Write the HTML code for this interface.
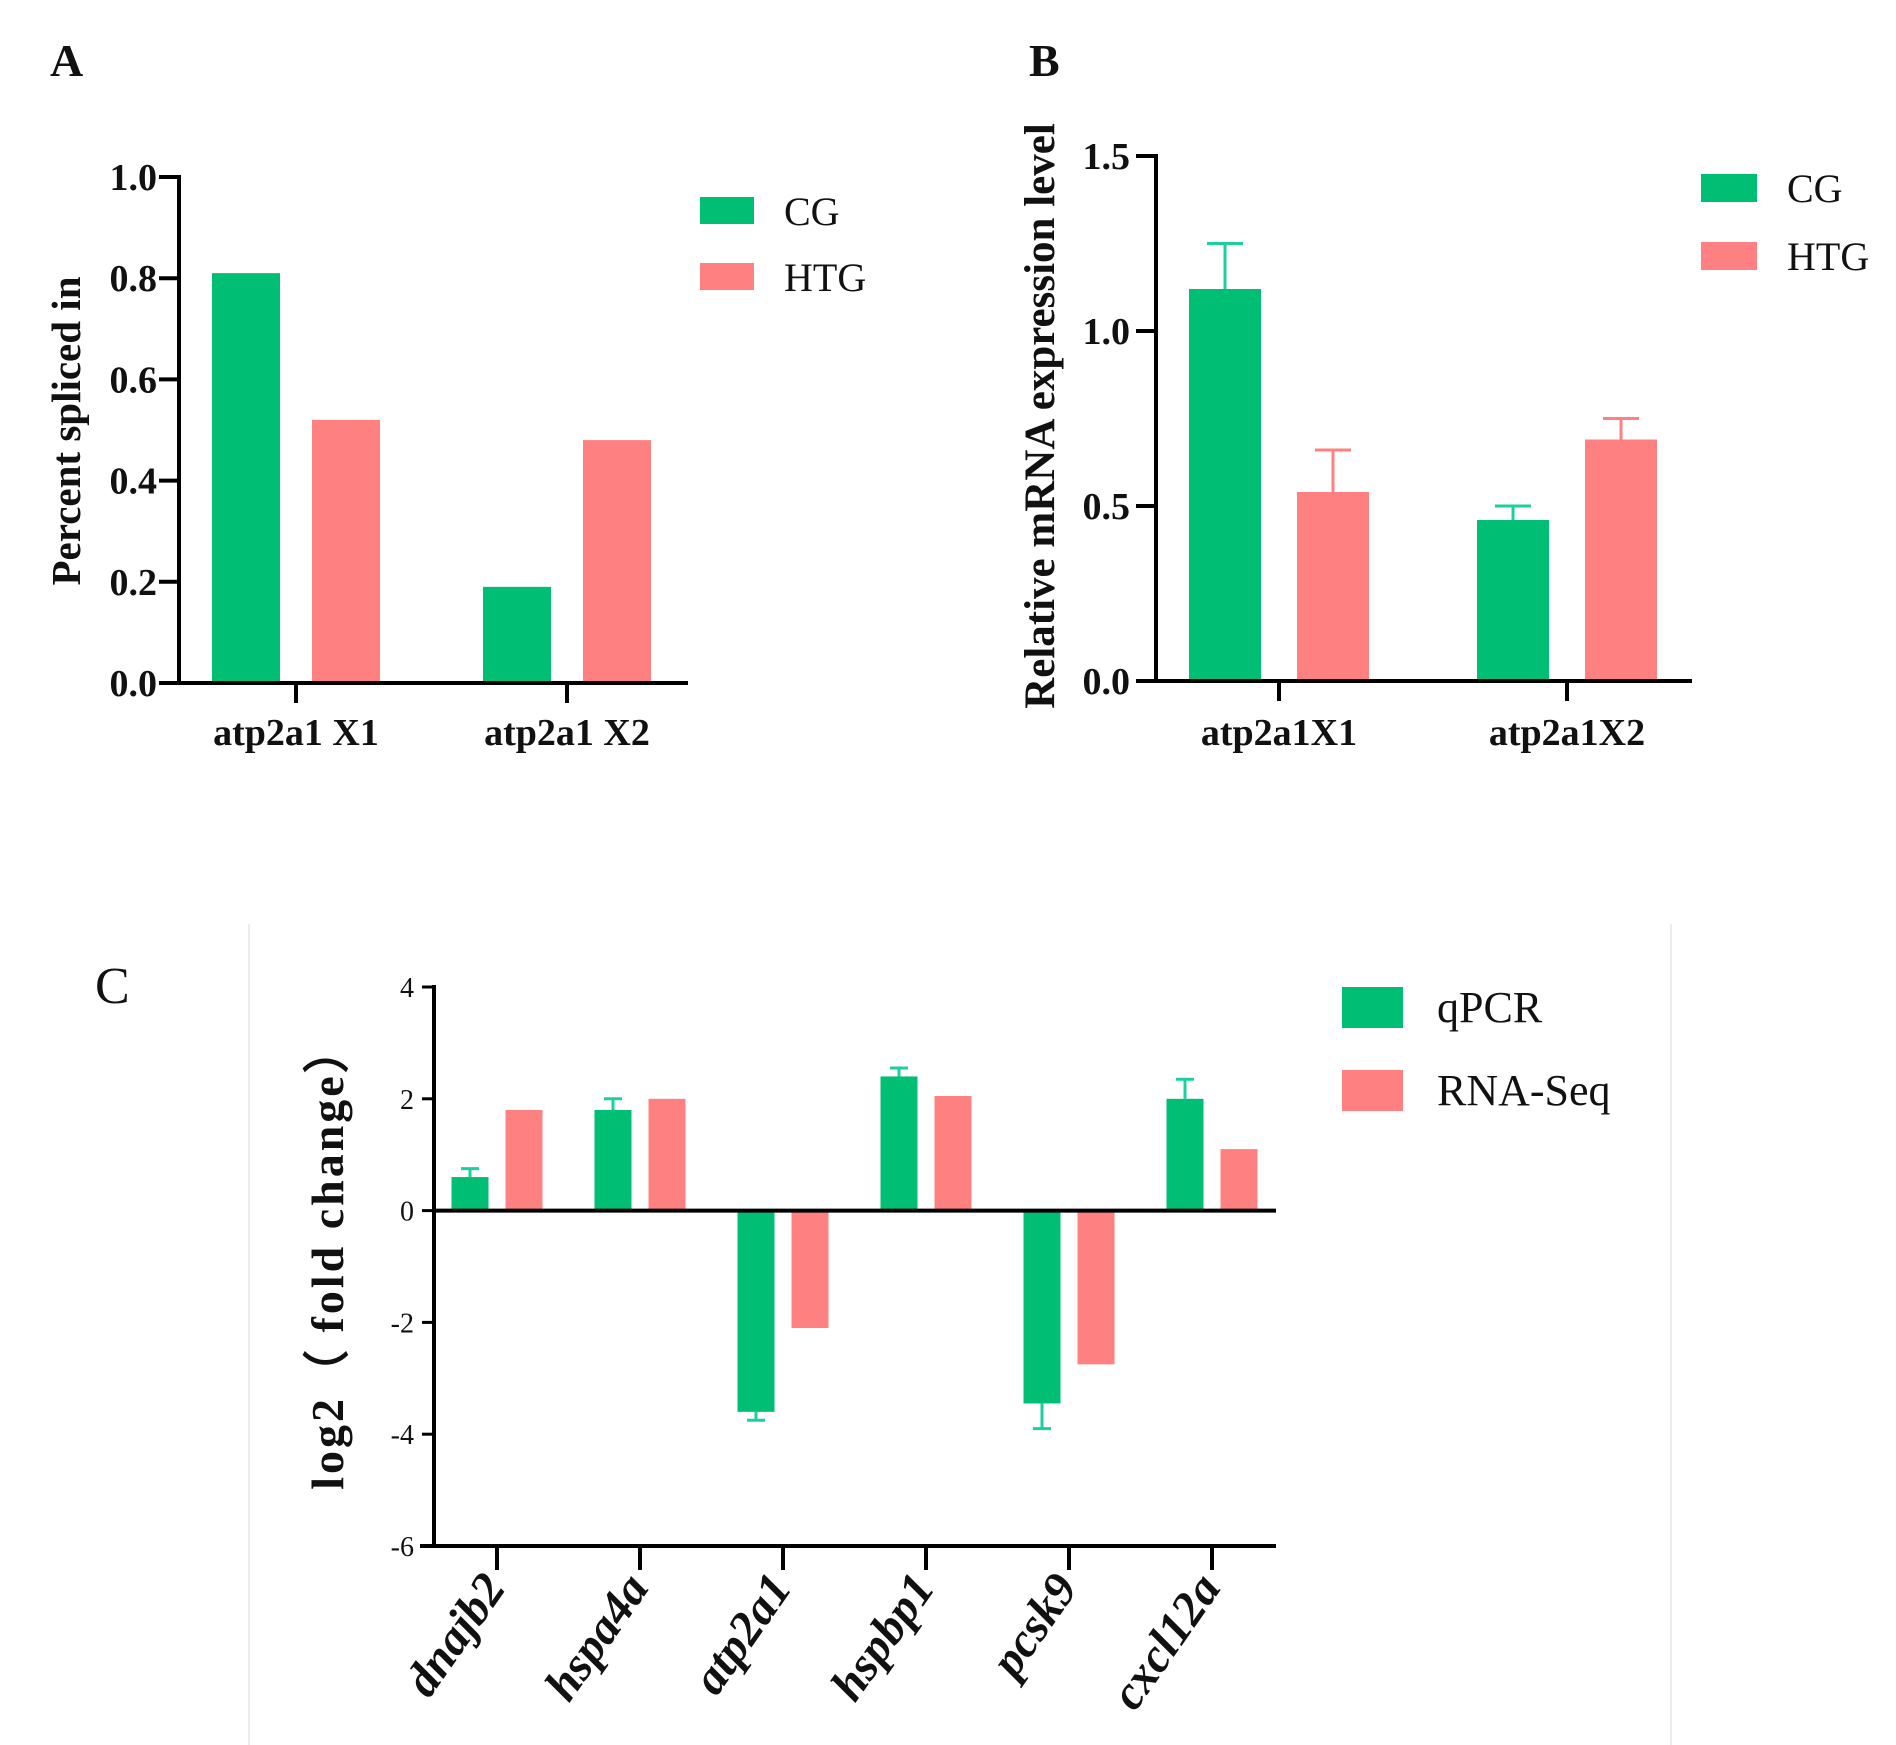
<!DOCTYPE html>
<html><head><meta charset="utf-8">
<style>
html,body{margin:0;padding:0;background:#fff;}
svg{display:block;}
text{font-family:"Liberation Serif",serif;fill:#111;}
</style></head>
<body>
<svg id="fig" width="1896" height="1745" viewBox="0 0 1896 1745" xmlns="http://www.w3.org/2000/svg">
  <g id="panelA"></g>
  <g id="panelB"></g>
  <g id="panelC"></g>
</svg>
<script>
// Panel A data
const aCategories = ["atp2a1 X1", "atp2a1 X2"];
const aCG = [0.81, 0.19];
const aHTG = [0.52, 0.48];
const aTicks = ["0.0", "0.2", "0.4", "0.6", "0.8", "1.0"];
const aTickValues = [0, 0.2, 0.4, 0.6, 0.8, 1.0];
// Panel B data
const bCategories = ["atp2a1X1", "atp2a1X2"];
const bCG = [1.12, 0.46];
const bCGErr = [0.13, 0.04];
const bHTG = [0.54, 0.69];
const bHTGErr = [0.12, 0.06];
const bTicks = ["0.0", "0.5", "1.0", "1.5"];
const bTickValues = [0, 0.5, 1.0, 1.5];
// Panel C data
const cCategories = ["dnajb2", "hspa4a", "atp2a1", "hspbp1", "pcsk9", "cxcl12a"];
const cQPCR = [0.6, 1.8, -3.6, 2.4, -3.45, 2.0];
const cQPCRErr = [0.15, 0.2, 0.15, 0.15, 0.45, 0.35];
const cRNA = [1.8, 2.0, -2.1, 2.05, -2.75, 1.1];
const cTicks = ["-6", "-4", "-2", "0", "2", "4"];
const cTickValues = [-6, -4, -2, 0, 2, 4];

const NS = "http://www.w3.org/2000/svg";
const GREEN = "#00bf74", PINK = "#ff8080", GERR = "#1ccf9f";
function mk(tag, attrs, parent) {
  const e = document.createElementNS(NS, tag);
  for (const k in attrs) e.setAttribute(k, attrs[k]);
  parent.appendChild(e);
  return e;
}
function txt(parent, x, y, s, size, opts) {
  const t = mk("text", Object.assign({x: x, y: y, "font-size": size}, opts || {}), parent);
  t.textContent = s;
  return t;
}

// ---------- Panel A ----------
(function () {
  const g = document.getElementById("panelA");
  const x0 = 179, x1 = 688, yTop = 177, yZero = 683;
  const yScale = v => yZero - (v / 1.0) * (yZero - yTop);
  const groupCenters = [296, 567];
  const barW = 68, off = 50;
  const lbl = txt(g, 50, 76, "A", 46, {"font-weight": "bold"});
  
  
  aCategories.forEach((c, i) => {
    const cx = groupCenters[i];
    const r1 = mk("rect", {x: cx - off - barW / 2, y: yScale(aCG[i]), width: barW, height: yZero - yScale(aCG[i]), fill: GREEN}, g);
    
    
    const r2 = mk("rect", {x: cx + off - barW / 2, y: yScale(aHTG[i]), width: barW, height: yZero - yScale(aHTG[i]), fill: PINK}, g);
    
    
    const tk = mk("line", {x1: cx, x2: cx, y1: yZero, y2: yZero + 20, stroke: "#000", "stroke-width": 4}, g);
    
    
    const cl = txt(g, cx, 745, c, 38, {"font-weight": "bold", "text-anchor": "middle"});
    
    
  });
  const ya = mk("line", {x1: x0, x2: x0, y1: yTop - 2, y2: yZero + 2, stroke: "#000", "stroke-width": 4}, g);
  
  
  const xa = mk("line", {x1: x0 - 20, x2: x1, y1: yZero, y2: yZero, stroke: "#000", "stroke-width": 4}, g);
  
  
  aTickValues.forEach((v, i) => {
    const t = mk("line", {x1: x0 - 20, x2: x0, y1: yScale(v), y2: yScale(v), stroke: "#000", "stroke-width": 4}, g);
    
    
    const l = txt(g, 157, yScale(v) + 13, aTicks[i], 38, {"font-weight": "bold", "text-anchor": "end"});
    
    
  });
  const yt = txt(g, 0, 0, "Percent spliced in", 41, {"font-weight": "bold", "text-anchor": "middle", transform: "translate(80,431) rotate(-90)"});
  
  
  const s1 = mk("rect", {x: 700, y: 197, width: 54, height: 27, fill: GREEN}, g);
  
  
  const t1 = txt(g, 784, 225, "CG", 40);
  
  
  const s2 = mk("rect", {x: 700, y: 263, width: 54, height: 27, fill: PINK}, g);
  
  
  const t2 = txt(g, 784, 291, "HTG", 40);
  
  
})();

// ---------- Panel B ----------
(function () {
  const g = document.getElementById("panelB");
  const x0 = 1156, x1 = 1692, yTop = 156, yZero = 681;
  const yScale = v => yZero - (v / 1.5) * (yZero - yTop);
  const groupCenters = [1279, 1567];
  const barW = 72, off = 54;
  const lbl = txt(g, 1029, 76, "B", 46, {"font-weight": "bold"});
  
  
  bCategories.forEach((c, i) => {
    const cx = groupCenters[i];
    const xa = cx - off, xb = cx + off;
    const e1 = mk("path", {d: `M${xa} ${yScale(bCG[i])} V${yScale(bCG[i] + bCGErr[i])} M${xa - 18} ${yScale(bCG[i] + bCGErr[i])} H${xa + 18}`, stroke: GERR, "stroke-width": 3, fill: "none"}, g);
    
    
    const e2 = mk("path", {d: `M${xb} ${yScale(bHTG[i])} V${yScale(bHTG[i] + bHTGErr[i])} M${xb - 18} ${yScale(bHTG[i] + bHTGErr[i])} H${xb + 18}`, stroke: PINK, "stroke-width": 3, fill: "none"}, g);
    
    
    const r1 = mk("rect", {x: xa - barW / 2, y: yScale(bCG[i]), width: barW, height: yZero - yScale(bCG[i]), fill: GREEN}, g);
    
    
    const r2 = mk("rect", {x: xb - barW / 2, y: yScale(bHTG[i]), width: barW, height: yZero - yScale(bHTG[i]), fill: PINK}, g);
    
    
    const tk = mk("line", {x1: cx, x2: cx, y1: yZero, y2: yZero + 20, stroke: "#000", "stroke-width": 4}, g);
    
    
    const cl = txt(g, cx, 745, c, 38, {"font-weight": "bold", "text-anchor": "middle"});
    
    
  });
  const ya = mk("line", {x1: x0, x2: x0, y1: yTop - 2, y2: yZero + 2, stroke: "#000", "stroke-width": 4}, g);
  
  
  const xa = mk("line", {x1: x0 - 20, x2: x1, y1: yZero, y2: yZero, stroke: "#000", "stroke-width": 4}, g);
  
  
  bTickValues.forEach((v, i) => {
    const t = mk("line", {x1: x0 - 20, x2: x0, y1: yScale(v), y2: yScale(v), stroke: "#000", "stroke-width": 4}, g);
    
    
    const l = txt(g, 1130, yScale(v) + 13, bTicks[i], 38, {"font-weight": "bold", "text-anchor": "end"});
    
    
  });
  const yt = txt(g, 0, 0, "Relative mRNA expression level", 43, {"font-weight": "bold", "text-anchor": "middle", transform: "translate(1054,416) rotate(-90)"});
  
  
  const s1 = mk("rect", {x: 1701, y: 174, width: 56, height: 28, fill: GREEN}, g);
  
  
  const t1 = txt(g, 1787, 202, "CG", 40);
  
  
  const s2 = mk("rect", {x: 1701, y: 242, width: 56, height: 28, fill: PINK}, g);
  
  
  const t2 = txt(g, 1787, 270, "HTG", 40);
  
  
})();

// ---------- Panel C ----------
(function () {
  const g = document.getElementById("panelC");
  const x0 = 434, x1 = 1276, yMin = -6, yMax = 4, yTopPx = 987, yBotPx = 1546;
  const yScale = v => yBotPx - (v - yMin) / (yMax - yMin) * (yBotPx - yTopPx);
  const yZero = yScale(0);
  const xScale = i => 497 + i * 143;
  const barW = 37, off = 27;
  const gl1 = mk("line", {x1: 249, x2: 249, y1: 924, y2: 1745, stroke: "#ececec", "stroke-width": 2}, g);
  
  
  const gl2 = mk("line", {x1: 1671, x2: 1671, y1: 924, y2: 1745, stroke: "#ececec", "stroke-width": 2}, g);
  
  
  const lbl = txt(g, 95, 1003, "C", 52);
  
  
  cCategories.forEach((c, i) => {
    const cx = xScale(i);
    const xq = cx - off, xr = cx + off;
    const q = cQPCR[i], r = cRNA[i];
    const sign = q >= 0 ? 1 : -1;
    const ev = q + sign * cQPCRErr[i];
    const e1 = mk("path", {d: `M${xq} ${yScale(q)} V${yScale(ev)} M${xq - 9} ${yScale(ev)} H${xq + 9}`, stroke: GERR, "stroke-width": 3, fill: "none"}, g);
    
    
    const r1 = mk("rect", {x: xq - barW / 2, y: Math.min(yScale(q), yZero), width: barW, height: Math.abs(yScale(q) - yZero), fill: GREEN}, g);
    
    
    const r2 = mk("rect", {x: xr - barW / 2, y: Math.min(yScale(r), yZero), width: barW, height: Math.abs(yScale(r) - yZero), fill: PINK}, g);
    
    
    const tk = mk("line", {x1: cx, x2: cx, y1: yBotPx, y2: yBotPx + 24, stroke: "#000", "stroke-width": 4}, g);
    
    
    const cl = txt(g, 0, 0, c, 48, {"font-style": "italic", "font-weight": "bold", "text-anchor": "end", transform: `translate(${cx + 10},1588) rotate(-55)`});
    
    
  });
  const ya = mk("line", {x1: x0, x2: x0, y1: yTopPx - 2, y2: yBotPx + 2, stroke: "#000", "stroke-width": 4}, g);
  
  
  const xa = mk("line", {x1: x0 - 14, x2: x1, y1: yBotPx, y2: yBotPx, stroke: "#000", "stroke-width": 4}, g);
  
  
  const za = mk("line", {x1: x0, x2: x1, y1: yZero, y2: yZero, stroke: "#000", "stroke-width": 4}, g);
  
  
  cTickValues.forEach((v, i) => {
    const t = mk("line", {x1: x0 - 12, x2: x0, y1: yScale(v), y2: yScale(v), stroke: "#000", "stroke-width": 3}, g);
    
    
    const l = txt(g, 414, yScale(v) + 10, cTicks[i], 28, {"text-anchor": "end"});
    
    
  });
  const yt = txt(g, 0, 0, "log2（ fold change）", 46, {"font-weight": "bold", "text-anchor": "middle", "letter-spacing": "3", transform: "translate(343,1257) rotate(-90)"});
  
  
  const s1 = mk("rect", {x: 1342, y: 987, width: 61, height: 41, fill: GREEN}, g);
  
  
  const t1 = txt(g, 1437, 1022, "qPCR", 44);
  
  
  const s2 = mk("rect", {x: 1342, y: 1070, width: 61, height: 41, fill: PINK}, g);
  
  
  const t2 = txt(g, 1437, 1105, "RNA-Seq", 44);
  
  
})();
</script>
</body></html>
